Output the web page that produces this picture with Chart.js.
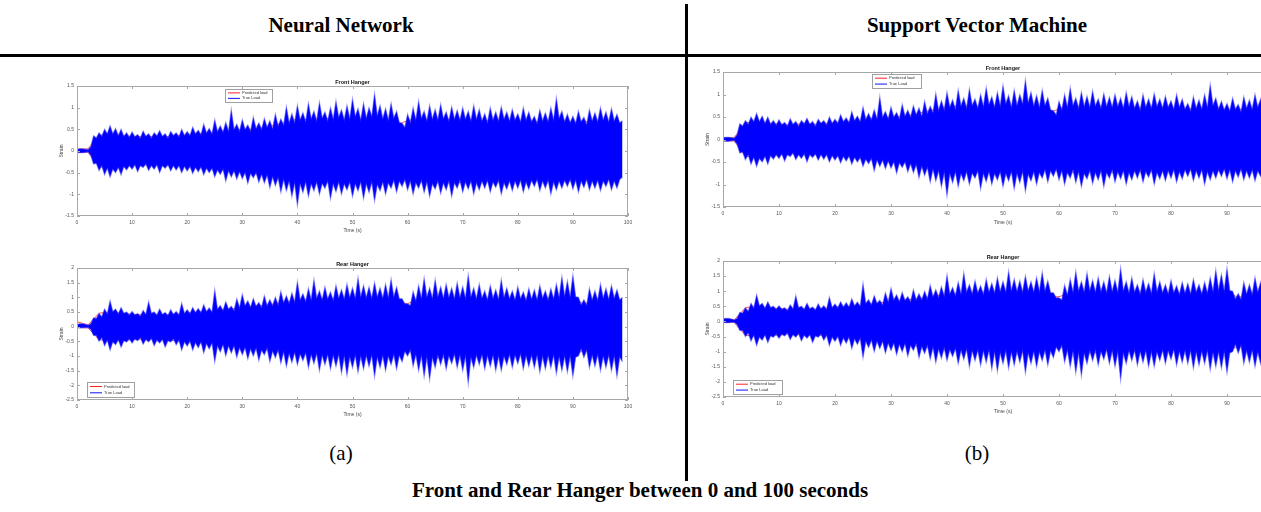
<!DOCTYPE html>
<html>
<head>
<meta charset="utf-8">
<script src="https://cdn.jsdelivr.net/npm/chart.js@4.4.1/dist/chart.umd.min.js"></script>
<style>
  html, body { margin: 0; padding: 0; }
  body { width: 1261px; height: 512px; overflow: hidden; background: #fff; position: relative; }
  canvas { position: absolute; }
  .txt { position: absolute; font-family: "Liberation Serif", "Times New Roman", serif; color: #000; white-space: nowrap; transform: translate(-50%, -50%); }
  .hdr { font-weight: bold; font-size: 21px; }
  .cap { font-size: 21px; }
  .rule { position: absolute; background: #000; }
</style>
</head>
<body>
<div class="txt hdr" style="left:341px;top:25px">Neural Network</div>
<div class="txt hdr" style="left:977px;top:25px">Support Vector Machine</div>
<div class="rule" style="left:0;top:54px;width:1261px;height:3px"></div>
<div class="rule" style="left:685px;top:4px;width:3px;height:477px;z-index:5"></div>

<canvas id="nn-front" width="591" height="170" style="left:59px;top:66px"></canvas>
<canvas id="nn-rear" width="591" height="170" style="left:59px;top:250px"></canvas>
<canvas id="svm-front" width="600" height="170" style="left:705px;top:58px"></canvas>
<canvas id="svm-rear" width="600" height="172" style="left:705px;top:245px"></canvas>

<div class="txt cap" style="left:341px;top:453px">(a)</div>
<div class="txt cap" style="left:977px;top:453px">(b)</div>
<div class="txt hdr" style="left:640px;top:490px">Front and Rear Hanger between 0 and 100 seconds</div>

<script>
// true load envelope (peaks and troughs), one value every 0.5 s, t = 0..99
const FRONT_TRUE_HI = [0.04,0.05,0.05,0.04,0.03,0.1,
  0.35,0.3,0.42,0.34,0.5,0.4,
  0.58,0.4,0.52,0.36,0.5,0.34,0.42,0.32,
  0.44,0.33,0.38,0.3,0.46,0.34,0.4,0.3,0.42,0.35,
  0.47,0.34,0.4,0.3,0.45,0.36,0.42,0.33,0.5,0.36,
  0.45,0.36,0.55,0.4,0.48,0.38,0.62,0.42,0.52,0.4,
  0.72,0.45,0.58,0.44,0.66,0.46,0.95,0.5,0.62,0.46,
  0.72,0.5,0.6,0.46,0.78,0.52,0.65,0.5,0.75,0.55,
  0.7,0.52,0.85,0.58,0.74,0.6,1.02,0.65,0.86,0.66,
  1.05,0.72,0.88,0.68,1.1,0.75,0.92,0.7,1.12,0.76,
  0.9,0.7,1.0,0.74,1.15,0.78,0.95,0.72,1.05,0.75,
  1.2,0.8,0.98,0.72,1.1,0.76,1.0,0.8,1.32,0.82,
  1.05,0.75,0.98,0.72,1.1,0.76,0.92,0.66,0.64,0.55,
  0.85,0.66,1.0,0.72,1.15,0.76,0.92,0.7,1.05,0.74,
  0.96,0.72,1.08,0.75,0.9,0.7,1.02,0.74,0.94,0.72,
  1.0,0.74,0.92,0.7,1.05,0.74,0.96,0.7,0.86,0.66,
  1.0,0.72,0.9,0.7,1.02,0.74,0.9,0.7,0.96,0.72,
  0.86,0.68,1.0,0.72,0.9,0.68,0.8,0.64,0.95,0.7,
  0.88,0.68,1.0,0.72,1.22,0.76,0.92,0.68,0.85,0.66,
  0.8,0.64,0.92,0.68,0.78,0.62,0.95,0.7,0.88,0.68,
  1.0,0.72,0.9,0.68,0.98,0.7,0.85,0.65,0.7];
const FRONT_TRUE_LO = [-0.03,-0.04,-0.04,-0.03,-0.02,-0.1,
  -0.3,-0.28,-0.45,-0.34,-0.55,-0.4,
  -0.6,-0.42,-0.5,-0.38,-0.55,-0.36,-0.44,-0.34,
  -0.42,-0.32,-0.48,-0.34,-0.38,-0.3,-0.45,-0.34,-0.42,-0.32,
  -0.5,-0.34,-0.4,-0.32,-0.46,-0.34,-0.44,-0.34,-0.5,-0.36,
  -0.46,-0.36,-0.52,-0.38,-0.48,-0.37,-0.55,-0.4,-0.5,-0.4,
  -0.6,-0.44,-0.54,-0.42,-0.7,-0.46,-0.6,-0.46,-0.65,-0.48,
  -0.64,-0.5,-0.75,-0.52,-0.62,-0.5,-0.72,-0.54,-0.74,-0.56,
  -0.85,-0.6,-0.8,-0.62,-0.95,-0.66,-0.92,-0.7,-1.05,-0.74,
  -1.25,-0.76,-0.96,-0.72,-1.05,-0.76,-0.92,-0.72,-1.0,-0.75,
  -0.86,-0.7,-1.1,-0.76,-0.94,-0.72,-1.0,-0.76,-0.9,-0.72,
  -1.05,-0.76,-0.92,-0.72,-1.1,-0.76,-0.96,-0.72,-1.15,-0.78,
  -0.92,-0.72,-1.0,-0.74,-0.86,-0.68,-0.95,-0.7,-0.82,-0.66,
  -0.9,-0.7,-1.0,-0.74,-0.86,-0.68,-0.96,-0.72,-1.05,-0.76,
  -0.88,-0.7,-0.98,-0.74,-0.9,-0.7,-1.05,-0.74,-0.86,-0.68,
  -0.95,-0.72,-0.88,-0.7,-1.0,-0.74,-0.9,-0.7,-0.86,-0.68,
  -0.95,-0.72,-0.84,-0.68,-1.0,-0.74,-0.88,-0.7,-0.92,-0.7,
  -0.86,-0.68,-0.95,-0.72,-0.88,-0.68,-0.82,-0.66,-0.92,-0.7,
  -0.86,-0.68,-1.0,-0.72,-0.9,-0.7,-0.86,-0.68,-0.82,-0.66,
  -0.88,-0.68,-0.95,-0.7,-0.84,-0.66,-0.9,-0.7,-0.86,-0.68,
  -0.92,-0.7,-0.82,-0.66,-0.9,-0.7,-0.86,-0.66,-0.6];
const REAR_TRUE_HI = [0.08,0.1,0.1,0.08,0.05,0.1,
  0.3,0.28,0.45,0.34,0.6,0.44,
  0.88,0.52,0.6,0.44,0.65,0.46,0.5,0.4,
  0.52,0.4,0.45,0.36,0.55,0.42,0.85,0.46,0.5,0.4,
  0.6,0.42,0.48,0.38,0.58,0.42,0.52,0.4,0.8,0.46,
  0.58,0.45,0.65,0.48,0.62,0.48,0.75,0.52,0.64,0.5,
  1.25,0.6,0.72,0.55,0.85,0.6,0.7,0.55,0.95,0.65,
  1.1,0.72,0.88,0.66,0.96,0.7,0.82,0.66,1.05,0.72,
  0.92,0.72,1.0,0.75,1.2,0.82,1.05,0.8,1.15,0.85,
  1.53,0.92,1.12,0.86,1.3,0.92,1.6,0.98,1.22,0.92,
  1.35,0.95,1.18,0.9,1.4,0.98,1.26,0.95,1.45,1.0,
  1.32,0.98,1.66,1.02,1.4,1.0,1.35,0.98,1.5,1.02,
  1.32,0.98,1.45,1.0,1.62,1.02,1.35,0.95,0.95,0.78,
  0.78,0.72,1.2,0.88,1.4,0.98,1.65,1.02,1.32,0.98,
  1.6,1.02,1.36,0.98,1.45,1.0,1.32,0.96,1.5,1.0,
  1.36,0.98,1.76,1.02,1.32,0.96,1.45,0.98,1.22,0.92,
  1.4,0.98,1.26,0.94,1.6,1.0,1.32,0.96,1.22,0.92,
  1.36,0.96,1.18,0.9,1.3,0.94,1.26,0.92,1.4,0.98,
  1.22,0.92,1.3,0.95,1.45,1.0,1.7,1.05,1.55,1.02,
  1.75,1.02,1.0,0.75,0.92,0.74,1.3,0.92,1.22,0.9,
  1.45,0.98,1.3,0.94,1.4,0.98,1.26,0.92,1.0];
const REAR_TRUE_LO = [-0.03,-0.04,-0.04,-0.03,-0.03,-0.1,
  -0.3,-0.3,-0.5,-0.38,-0.65,-0.46,
  -0.8,-0.52,-0.62,-0.45,-0.7,-0.48,-0.52,-0.42,
  -0.56,-0.42,-0.48,-0.38,-0.6,-0.44,-0.52,-0.4,-0.65,-0.46,
  -0.56,-0.44,-0.7,-0.48,-0.52,-0.42,-0.62,-0.46,-0.8,-0.52,
  -0.66,-0.5,-0.8,-0.55,-0.72,-0.52,-0.9,-0.58,-0.76,-0.56,
  -1.2,-0.66,-0.86,-0.62,-1.0,-0.66,-0.9,-0.66,-1.05,-0.72,
  -0.96,-0.72,-1.1,-0.76,-1.0,-0.74,-1.15,-0.8,-0.96,-0.74,
  -1.2,-0.84,-1.06,-0.8,-1.25,-0.86,-1.36,-0.92,-1.22,-0.88,
  -1.3,-0.94,-1.16,-0.9,-1.4,-0.96,-1.26,-0.92,-1.5,-0.98,
  -1.3,-0.96,-1.45,-0.98,-1.36,-0.96,-1.58,-1.02,-1.65,-1.04,
  -1.4,-0.98,-1.55,-1.02,-1.45,-1.0,-1.36,-0.98,-1.7,-1.05,
  -1.4,-1.0,-1.5,-1.02,-1.3,-0.96,-1.45,-0.98,-1.2,-0.85,
  -1.0,-0.8,-1.35,-0.96,-1.5,-1.0,-1.7,-1.05,-1.8,-1.06,
  -1.4,-0.98,-1.3,-0.96,-1.45,-1.0,-1.26,-0.94,-1.4,-0.98,
  -1.5,-1.02,-1.93,-1.06,-1.4,-0.98,-1.3,-0.96,-1.45,-1.0,
  -1.36,-0.98,-1.5,-1.02,-1.5,-1.02,-1.3,-0.96,-1.4,-0.98,
  -1.26,-0.94,-1.45,-1.0,-1.36,-0.98,-1.4,-0.98,-1.55,-1.02,
  -1.45,-1.0,-1.4,-0.98,-1.6,-1.04,-1.5,-1.02,-1.55,-1.02,
  -1.7,-1.04,-1.0,-0.76,-1.05,-0.8,-1.4,-0.98,-1.36,-0.96,
  -1.5,-1.02,-1.4,-0.98,-1.5,-1.02,-1.7,-1.04,-1.2];
const TRUE_STEP = 0.5;

// predicted load envelope, one value every 2 s, t = 0..98
const NN_FRONT_PRED_HI = [0.04,0.05,0.36,0.4,0.36,0.33,0.33,0.34,0.33,0.35,
  0.37,0.39,0.4,0.45,0.47,0.5,0.5,0.54,0.6,0.66,
  0.74,0.72,0.74,0.75,0.72,0.76,0.72,0.78,0.7,0.6,
  0.7,0.74,0.72,0.74,0.72,0.74,0.72,0.7,0.72,0.7,
  0.68,0.7,0.66,0.72,0.7,0.66,0.68,0.66,0.7,0.6];
const NN_FRONT_PRED_LO = [-0.03,-0.03,-0.36,-0.4,-0.38,-0.33,-0.32,-0.33,-0.33,-0.34,
  -0.36,-0.38,-0.4,-0.44,-0.46,-0.5,-0.52,-0.55,-0.62,-0.7,
  -0.74,-0.72,-0.74,-0.72,-0.74,-0.74,-0.72,-0.76,-0.7,-0.68,
  -0.7,-0.72,-0.7,-0.72,-0.74,-0.72,-0.72,-0.7,-0.72,-0.7,
  -0.68,-0.7,-0.68,-0.7,-0.7,-0.68,-0.68,-0.68,-0.68,-0.58];
const NN_REAR_PRED_HI = [0.17,0.06,0.46,0.5,0.46,0.42,0.4,0.4,0.4,0.42,
  0.46,0.5,0.5,0.58,0.6,0.66,0.7,0.72,0.78,0.84,
  0.9,0.92,0.96,0.96,0.96,1.0,1.0,1.02,0.98,0.82,
  0.78,0.96,1.0,0.98,0.98,1.0,0.98,0.96,0.96,0.94,
  0.94,0.94,0.96,0.98,1.02,1.0,0.76,0.96,0.96,0.9];
const NN_REAR_PRED_LO = [-0.03,-0.04,-0.44,-0.5,-0.46,-0.44,-0.42,-0.42,-0.44,-0.48,
  -0.5,-0.54,-0.56,-0.62,-0.66,-0.72,-0.74,-0.78,-0.84,-0.9,
  -0.92,-0.92,-0.96,-0.98,-0.98,-1.0,-1.02,-1.0,-0.96,-0.88,
  -0.8,-0.96,-1.02,-1.06,-0.98,-0.96,-1.0,-0.98,-1.0,-0.98,
  -0.96,-1.0,-0.98,-1.0,-1.02,-1.04,-0.78,-1.0,-1.02,-1.04];
const SVM_FRONT_PRED_HI = [0.03,0.04,0.37,0.39,0.37,0.34,0.32,0.35,0.34,0.34,
  0.38,0.4,0.39,0.46,0.48,0.49,0.51,0.55,0.62,0.67,
  0.72,0.74,0.75,0.72,0.74,0.77,0.72,0.76,0.72,0.58,
  0.68,0.75,0.73,0.72,0.74,0.72,0.73,0.7,0.72,0.74,
  0.67,0.68,0.68,0.7,0.72,0.65,0.67,0.68,0.68,0.6];
const SVM_FRONT_PRED_LO = [-0.03,-0.03,-0.37,-0.39,-0.37,-0.34,-0.31,-0.34,-0.33,-0.33,
  -0.37,-0.37,-0.41,-0.45,-0.45,-0.51,-0.51,-0.56,-0.63,-0.69,
  -0.72,-0.74,-0.72,-0.73,-0.72,-0.75,-0.74,-0.74,-0.72,-0.67,
  -0.69,-0.73,-0.72,-0.7,-0.72,-0.73,-0.7,-0.72,-0.7,-0.72,
  -0.67,-0.68,-0.68,-0.69,-0.7,-0.66,-0.67,-0.67,-0.68,-0.58];
const SVM_REAR_PRED_HI = [0.09,0.05,0.45,0.51,0.45,0.43,0.39,0.41,0.39,0.43,
  0.48,0.49,0.52,0.56,0.62,0.64,0.7,0.74,0.78,0.86,
  0.9,0.92,0.95,0.97,0.98,0.98,1.01,1.0,0.96,0.8,
  0.82,0.94,1.01,0.96,1.0,0.98,0.96,0.98,0.94,0.96,
  0.92,0.96,0.94,0.96,1.0,1.02,0.78,0.94,0.98,0.92];
const SVM_REAR_PRED_LO = [-0.03,-0.03,-0.46,-0.49,-0.45,-0.45,-0.4,-0.44,-0.45,-0.46,
  -0.51,-0.53,-0.58,-0.6,-0.67,-0.7,-0.75,-0.79,-0.84,-0.91,
  -0.94,-0.91,-0.98,-0.98,-1.0,-1.01,-1.0,-1.04,-0.94,-0.86,
  -0.82,-0.98,-1.0,-1.04,-0.96,-0.98,-0.98,-1.0,-0.98,-0.98,
  -0.96,-0.96,-0.98,-1.0,-1.0,-1.03,-0.8,-0.96,-1.04,-1.02];
const PRED_STEP = 2;

const LEGEND_LABELS = ['Predicted load', 'True Load'];
const X_TITLE = 'Time (s)';
const Y_TITLE = 'Strain';
const FRONT_Y = [-1.5, 1.5];
const REAR_Y = [-2.5, 2];

const TICK_FONT = { family: '"Liberation Sans", Arial, sans-serif', size: 5 };

function pts(arr, step) {
  return arr.map((v, i) => ({ x: i * step, y: v }));
}

// MATLAB-like box, inward ticks, title and legend
const matlabAxes = {
  id: 'matlabAxes',
  afterDraw(chart, args, opts) {
    const { ctx, chartArea: a, scales: { x, y } } = chart;
    ctx.save();
    ctx.strokeStyle = '#a8a8a8';
    ctx.lineWidth = 1;
    ctx.strokeRect(a.left + 0.5, a.top + 0.5, a.right - a.left - 1, a.bottom - a.top - 1);
    ctx.beginPath();
    x.ticks.forEach(t => {
      const px = Math.round(x.getPixelForValue(t.value)) + 0.5;
      ctx.moveTo(px, a.bottom); ctx.lineTo(px, a.bottom - 3);
      ctx.moveTo(px, a.top); ctx.lineTo(px, a.top + 3);
    });
    y.ticks.forEach(t => {
      const py = Math.round(y.getPixelForValue(t.value)) + 0.5;
      ctx.moveTo(a.left, py); ctx.lineTo(a.left + 3, py);
      ctx.moveTo(a.right, py); ctx.lineTo(a.right - 3, py);
    });
    ctx.stroke();

    ctx.fillStyle = '#111';
    ctx.font = 'bold 5.5px "Liberation Sans", Arial, sans-serif';
    ctx.textAlign = 'center';
    ctx.textBaseline = 'middle';
    ctx.fillText(opts.title, (a.left + a.right) / 2, a.top - 4);

    const L = opts.legend;
    const lx = a.left + L.x, ly = a.top + L.y;
    ctx.fillStyle = '#fff';
    ctx.fillRect(lx, ly, L.w, L.h);
    ctx.strokeStyle = '#a0a0a0';
    ctx.strokeRect(lx + 0.5, ly + 0.5, L.w, L.h);
    const rows = [ly + L.h * 0.3, ly + L.h * 0.72];
    const cols = ['#ff2020', '#1010ff'];
    ctx.textAlign = 'left';
    ctx.font = '4px "Liberation Sans", Arial, sans-serif';
    rows.forEach((ry, i) => {
      ctx.strokeStyle = cols[i];
      ctx.beginPath();
      ctx.moveTo(lx + 3, ry); ctx.lineTo(lx + 15, ry);
      ctx.stroke();
      ctx.fillStyle = '#333';
      ctx.fillText(LEGEND_LABELS[i], lx + 17, ry);
    });
    ctx.restore();
  }
};

function makeChart(id, trueHi, trueLo, predHi, predLo, yRange, title, legend, topPad, xHeight) {
  const ctx = document.getElementById(id).getContext('2d');
  new Chart(ctx, {
    type: 'line',
    data: {
      datasets: [
        { label: LEGEND_LABELS[1], data: pts(trueHi, TRUE_STEP), borderColor: 'rgba(50,50,255,0.5)', borderWidth: 1.2, fill: false, order: 0 },
        { label: LEGEND_LABELS[1], data: pts(trueLo, TRUE_STEP), borderColor: 'rgba(50,50,255,0.5)', borderWidth: 1.2, fill: '-1', backgroundColor: '#0000ff', order: 0 },
        { label: LEGEND_LABELS[0], data: pts(predHi, PRED_STEP), borderColor: 'rgba(255,40,40,0.8)', borderWidth: 1, fill: false, order: 1 },
        { label: LEGEND_LABELS[0], data: pts(predLo, PRED_STEP), borderColor: 'rgba(255,40,40,0.8)', borderWidth: 1, fill: false, order: 1 }
      ]
    },
    options: {
      responsive: false,
      animation: false,
      events: [],
      elements: { point: { radius: 0 }, line: { tension: 0 } },
      layout: { padding: { top: topPad, right: 22, left: 0, bottom: 0 } },
      plugins: {
        legend: { display: false },
        tooltip: { enabled: false },
        matlabAxes: { title: title, legend: legend }
      },
      scales: {
        x: {
          type: 'linear', min: 0, max: 100,
          grid: { display: false, drawTicks: false }, border: { display: false },
          ticks: { stepSize: 10, font: TICK_FONT, color: '#555', padding: 4, maxRotation: 0, autoSkip: false, callback: v => String(v) },
          title: { display: true, text: X_TITLE, font: TICK_FONT, color: '#444', padding: { top: 0, bottom: 2 } },
          afterFit: s => { s.height = xHeight; }
        },
        y: {
          min: yRange[0], max: yRange[1],
          grid: { display: false, drawTicks: false }, border: { display: false },
          ticks: { stepSize: 0.5, font: TICK_FONT, color: '#555', padding: 3, callback: v => String(v) },
          title: { display: true, text: Y_TITLE, font: TICK_FONT, color: '#444', padding: 0 },
          afterFit: s => { s.width = 18; }
        }
      }
    },
    plugins: [matlabAxes]
  });
}

makeChart('nn-front', FRONT_TRUE_HI, FRONT_TRUE_LO, NN_FRONT_PRED_HI, NN_FRONT_PRED_LO, FRONT_Y,
  'Front Hanger', { x: 148, y: 3, w: 47, h: 13 }, 20, 20);
makeChart('nn-rear', REAR_TRUE_HI, REAR_TRUE_LO, NN_REAR_PRED_HI, NN_REAR_PRED_LO, REAR_Y,
  'Rear Hanger', { x: 10, y: 114, w: 47, h: 15 }, 18, 20);
makeChart('svm-front', FRONT_TRUE_HI, FRONT_TRUE_LO, SVM_FRONT_PRED_HI, SVM_FRONT_PRED_LO, FRONT_Y,
  'Front Hanger', { x: 149, y: 2, w: 49, h: 14 }, 14, 21);
makeChart('svm-rear', REAR_TRUE_HI, REAR_TRUE_LO, SVM_REAR_PRED_HI, SVM_REAR_PRED_LO, REAR_Y,
  'Rear Hanger', { x: 10, y: 119, w: 49, h: 14 }, 16, 20);
</script>
</body>
</html>
